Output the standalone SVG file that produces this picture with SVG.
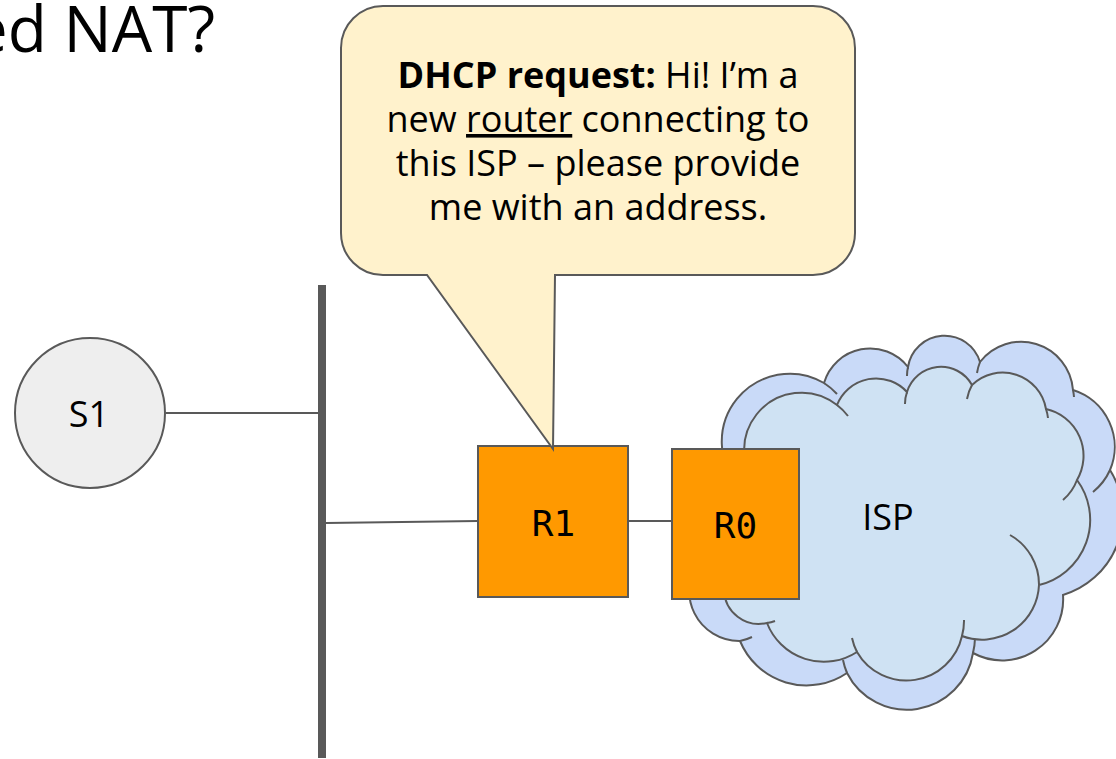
<svg xmlns="http://www.w3.org/2000/svg" width="1116" height="759" viewBox="0 0 1116 759">
  <style>
    .sans { font-family: "Open Sans", "Noto Sans", sans-serif; fill: #000; }
    .mono { font-family: "DejaVu Sans Mono", "Liberation Mono", monospace; fill: #000; }
    .bubble { font-family: "Open Sans", "Noto Sans", sans-serif; font-size: 36px; fill: #000; text-anchor: middle; }
    .edge { stroke: #595959; stroke-width: 2; fill: none; }
    .box { fill: #ff9900; stroke: #595959; stroke-width: 2; }
    .cloud-line { stroke: #595959; stroke-width: 2; fill: none; }
  </style>

  <rect width="1116" height="759" fill="#ffffff"/>

  <!-- slide title (runs off the left edge) -->
  <text id="title" class="sans" x="215" y="52" font-size="64" text-anchor="end">ed NAT?</text>

  <!-- links -->
  <g id="connectors">
    <line class="edge" x1="166" y1="413" x2="318" y2="413"/>
    <line class="edge" x1="326" y1="523" x2="478" y2="521"/>
    <line class="edge" x1="628" y1="521" x2="672" y2="521"/>
  </g>

  <!-- LAN bus -->
  <g id="bus">
    <rect x="318" y="285" width="8" height="473" fill="#595959"/>
  </g>

  <!-- host S1 -->
  <g id="S1">
    <circle cx="90" cy="413" r="75" fill="#eeeeee" stroke="#595959" stroke-width="2"/>
    <text class="sans" x="89" y="427" font-size="36" text-anchor="middle">S1</text>
  </g>

  <!-- router R1 -->
  <g id="R1">
    <rect class="box" x="478" y="446" width="150" height="151"/>
    <text class="mono" x="553.5" y="536" font-size="36" text-anchor="middle">R1</text>
  </g>

  <!-- ISP cloud: back layer, front layer, and the inner scallop strokes -->
  <g id="ISP">
    <path d="M 740 641 A 50 50 0 0 1 700 560 L 739 487 A 68 68 0 0 1 824 383 A 48 48 0 0 1 908 367 A 37 37 0 0 1 980 362 A 52 52 0 0 1 1073 390 A 59.5 59.5 0 0 1 1110 470 A 84 84 0 0 1 1063 595 A 61 61 0 0 1 973 653 A 67 67 0 0 1 847 673 A 72 72 0 0 1 740 641 Z" fill="#c9daf8" stroke="#595959" stroke-width="2"/>
    <path class="cloud-line" d="M 824 383 A 68 68 0 0 1 837 394 M 907 376 A 37 37 0 0 1 908 367 M 977 373 A 52 52 0 0 1 980 362 M 1073 390 A 52 52 0 0 1 1074 397 M 1110 470 A 59.5 59.5 0 0 1 1093 492 M 975 638 A 67 67 0 0 1 973 653 M 847 673 A 67 67 0 0 1 843 660 M 752 637 A 50 50 0 0 1 740 641"/>
    <path d="M 766 495 A 57 57 0 0 1 837 405 A 42 42 0 0 1 907 392 A 35.5 35.5 0 0 1 972 385 A 44 44 0 0 1 1046 409 A 48 48 0 0 1 1077 480 A 67 67 0 0 1 1039 585 A 57 57 0 0 1 962 636 A 57 57 0 0 1 857 652 A 61 61 0 0 1 767 623 A 35 35 0 0 1 724 590 Z" fill="#cfe2f3" stroke="#595959" stroke-width="2"/>
    <path class="cloud-line" d="M 837 405 A 57 57 0 0 1 848 416 M 905 404 A 35.5 35.5 0 0 1 907 392 M 967 399 A 44 44 0 0 1 972 385 M 1046 409 A 44 44 0 0 1 1048 418 M 1077 480 A 48 48 0 0 1 1063 500 M 1010 535 A 57 57 0 0 1 1039 585 M 964 620 A 57 57 0 0 1 962 636 M 857 652 A 57 57 0 0 1 852 638 M 775 621 A 35 35 0 0 1 767 623"/>
    <text class="sans" x="888" y="530" font-size="36" text-anchor="middle">ISP</text>
  </g>

  <!-- router R0 -->
  <g id="R0">
    <rect class="box" x="672" y="449" width="127" height="150"/>
    <text class="mono" x="735.5" y="538" font-size="36" text-anchor="middle">R0</text>
  </g>

  <!-- speech bubble pointing at R1 -->
  <g id="callout">
    <path d="M 383 6 H 813 A 42 42 0 0 1 855 48 V 233 A 42 42 0 0 1 813 275 H 555 L 553 449 L 427 275 H 383 A 42 42 0 0 1 341 233 V 48 A 42 42 0 0 1 383 6 Z" fill="#fff2cc" stroke="#595959" stroke-width="2"/>
    <text class="bubble" x="598" y="88"><tspan font-weight="bold">DHCP request:</tspan> Hi! I’m a</text>
    <text class="bubble" x="598" y="132">new <tspan text-decoration="underline">router</tspan> connecting to</text>
    <text class="bubble" x="598" y="176">this ISP – please provide</text>
    <text class="bubble" x="598" y="220">me with an address.</text>
  </g>
</svg>
